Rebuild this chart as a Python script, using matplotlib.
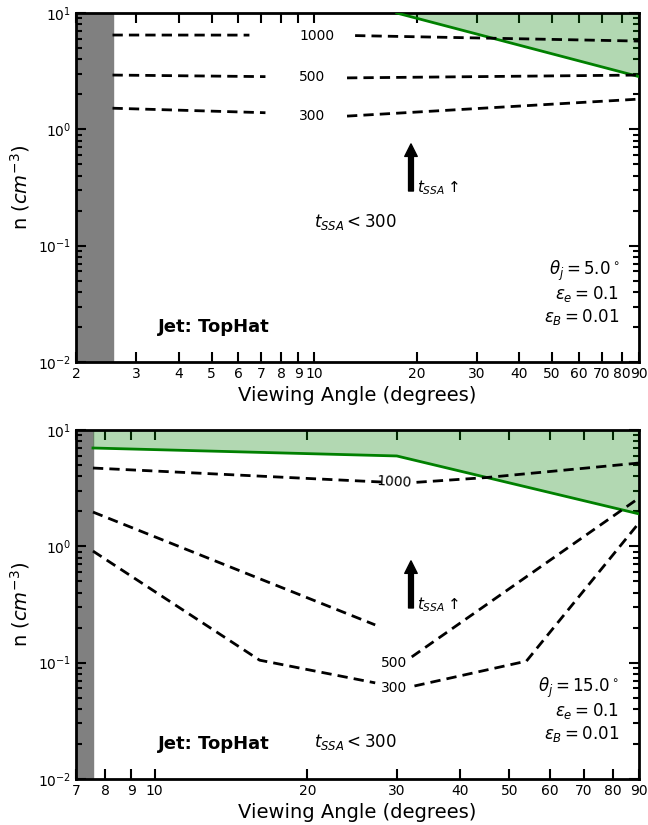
import numpy as np
from matplotlib import pyplot as plt
from matplotlib.ticker import LogLocator, ScalarFormatter, NullFormatter

# ---- panel 1: theta_j = 5 deg ----
top_xlim = (2, 90)
top_core = 2.56
top_green_x = [17.5, 90]
top_green_n = [10.0, 2.84]
top_contours = {
    '1000': ([2.56, 6.46], [6.47, 6.46], [13.2, 90], [6.4, 5.74], (10.2, 6.4)),
    '500': ([2.56, 7.2], [2.93, 2.84], [12.5, 90], [2.77, 2.93], (9.9, 2.84)),
    '300': ([2.56, 7.2], [1.52, 1.39], [12.5, 90], [1.30, 1.82], (9.9, 1.31)),
}
top_ticks = [2, 3, 4, 5, 6, 7, 8, 9, 10, 20, 30, 40, 50, 60, 70, 80, 90]

# ---- panel 2: theta_j = 15 deg ----
bot_xlim = (7, 90)
bot_core = 7.56
bot_green_x = [7.56, 30, 90]
bot_green_n = [7.0, 5.98, 1.9]
bot_contours = {
    '1000': ([7.56, 28.0], [4.71, 3.57], [32.8, 45, 90], [3.55, 3.9, 5.2], (29.7, 3.55)),
    '500': ([7.56, 27.2], [1.97, 0.211], [32.1, 90], [0.112, 2.6], (29.6, 0.099)),
    '300': ([7.56, 16.1, 27.2], [0.91, 0.105, 0.067], [32.5, 54, 90], [0.063, 0.103, 1.59], (29.6, 0.0605)),
}
bot_ticks = [7, 8, 9, 10, 20, 30, 40, 50, 60, 70, 80, 90]

fig = plt.figure(figsize=(6.48, 8.25), dpi=100)
ax1 = fig.add_axes([0.1173, 0.5612, 0.8688, 0.4230])
ax2 = fig.add_axes([0.1173, 0.0558, 0.8688, 0.4230])


def draw_panel(ax, xlim, core, gx, gn, contours, ticks, theta, tssa_pos, lrot):
    ax.set_xscale('log')
    ax.set_yscale('log')
    ax.set_xlim(*xlim)
    ax.set_ylim(1e-2, 1e1)
    ax.axvspan(xlim[0], core, color='gray', zorder=1)
    ax.fill_between(gx, gn, 10, color='green', alpha=0.3, lw=0, zorder=2)
    ax.plot(gx, gn, color='green', lw=2, zorder=3)
    for label, (xa, ya, xb, yb, lpos) in contours.items():
        ax.plot(xa, ya, 'k--', lw=2, dashes=(3.7, 2.2), zorder=4)
        ax.plot(xb, yb, 'k--', lw=2, dashes=(3.7, 2.2), zorder=4)
        ax.text(lpos[0], lpos[1], label, ha='center', va='center', fontsize=10,
                rotation=lrot.get(label, 0), zorder=5)

    ax.set_xticks(ticks)
    ax.xaxis.set_major_formatter(ScalarFormatter())
    ax.xaxis.set_minor_formatter(NullFormatter())
    ax.set_xticklabels([str(t) for t in ticks])
    ax.yaxis.set_major_locator(LogLocator(base=10, numticks=10))
    ax.yaxis.set_minor_locator(LogLocator(base=10, subs=np.arange(2, 10), numticks=10))
    ax.tick_params(which='major', direction='in', length=7, width=1.5,
                   top=True, right=True, labelsize=10)
    ax.tick_params(which='minor', direction='in', length=4, width=1.5,
                   top=True, right=True)
    for sp in ax.spines.values():
        sp.set_linewidth(2)

    ax.set_xlabel('Viewing Angle (degrees)', fontsize=14)
    ax.set_ylabel('n ($cm^{-3}$)', fontsize=14)

    ax.annotate('', xy=(0.595, 0.625), xytext=(0.595, 0.49),
                xycoords='axes fraction',
                arrowprops=dict(width=3.5, headwidth=9, headlength=9, color='k'))
    ax.text(0.605, 0.50, r'$t_{SSA}\uparrow$', transform=ax.transAxes,
            fontsize=11, va='center', ha='left')
    ax.text(tssa_pos[0], tssa_pos[1], r'$t_{SSA} < 300$', transform=ax.transAxes,
            fontsize=12, ha='center', va='center')
    ax.text(0.145, 0.10, 'Jet: TopHat', transform=ax.transAxes,
            fontsize=13, fontweight='bold', ha='left', va='center')
    ax.text(0.965, 0.26, r'$\theta_j = %.1f^\circ$' % theta, transform=ax.transAxes,
            fontsize=12, ha='right', va='center')
    ax.text(0.965, 0.195, r'$\epsilon_e = 0.1$', transform=ax.transAxes,
            fontsize=12, ha='right', va='center')
    ax.text(0.965, 0.13, r'$\epsilon_B = 0.01$', transform=ax.transAxes,
            fontsize=12, ha='right', va='center')


draw_panel(ax1, top_xlim, top_core, top_green_x, top_green_n, top_contours,
           top_ticks, 5.0, (0.497, 0.40), {})
draw_panel(ax2, bot_xlim, bot_core, bot_green_x, bot_green_n, bot_contours,
           bot_ticks, 15.0, (0.497, 0.106), {'1000': -3})

fig.savefig('out.png', dpi=100)
plt.close()
